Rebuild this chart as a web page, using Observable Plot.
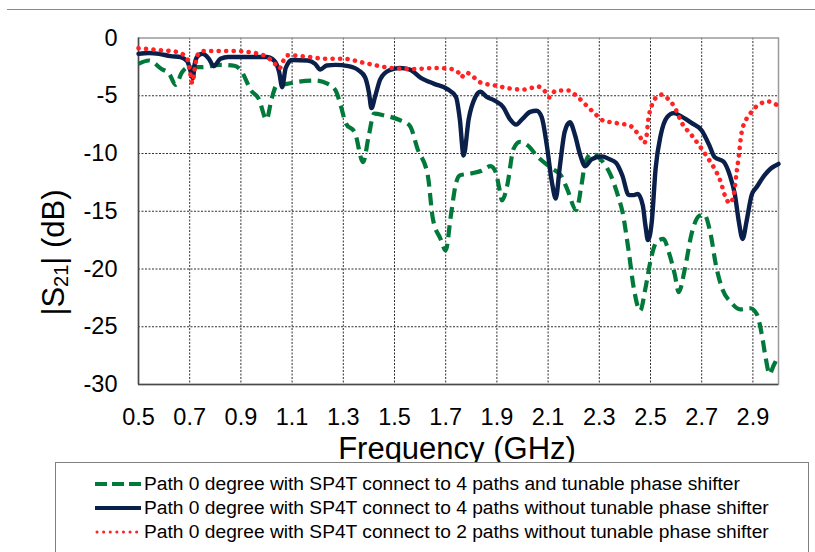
<!DOCTYPE html>
<html>
<head>
<meta charset="utf-8">
<script src="https://cdn.jsdelivr.net/npm/d3@7"></script>
<script src="https://cdn.jsdelivr.net/npm/@observablehq/plot@0.6"></script>
<style>
  html, body { margin: 0; padding: 0; background: #fff; }
  #wrap { position: relative; width: 815px; height: 552px; overflow: hidden; background: #fff; font-family: "Liberation Sans", Arial, sans-serif; color: #000; }
  #topline { position: absolute; left: 7px; top: 9px; width: 808px; border-top: 1.5px solid #8a8a8a; }
  #chart { position: absolute; left: 0; top: 0; }
  #xtitle { position: absolute; left: 0; width: 914px; top: 433px; text-align: center; font-size: 31px; line-height: 31px; white-space: nowrap; }
  #ytitle { position: absolute; width: 300px; left: -97px; top: 237px; text-align: center; font-size: 31px; line-height: 31px; white-space: nowrap; transform: rotate(-90deg); transform-origin: 150px 15.5px; }
  #ytitle sub { font-size: 20px; vertical-align: -4px; line-height: 0; }
  #legend { position: absolute; left: 55px; top: 462px; width: 752px; height: 120px; border: 1px solid #7f7f7f; background: #fff; }
  .row { position: absolute; left: 39px; height: 22px; display: flex; align-items: center; font-size: 19.2px; white-space: nowrap; }
  .row svg { margin-right: 3px; }
</style>
</head>
<body>
<div id="wrap">
  <div id="topline"></div>
  <div id="chart"></div>
  <div id="xtitle">Frequency (GHz)</div>
  <div id="ytitle">|S<sub>21</sub>| (dB)</div>
  <div id="legend"></div>
</div>
<script>
// ---- data ----
const seriesNames = [
  "Path 0 degree with SP4T connect to 4 paths and tunable phase shifter",
  "Path 0 degree with SP4T connect to 4 paths without tunable phase shifter",
  "Path 0 degree with SP4T connect to 2 paths without tunable phase shifter"
];

const freqA = [0.5,0.54,0.59,0.62,0.645,0.67,0.695,0.745,0.82,0.875,0.9,0.94,0.97,1.0,1.02,1.04,1.08,1.12,1.19,1.24,1.27,1.29,1.31,1.345,1.377,1.4,1.42,1.46,1.52,1.56,1.59,1.63,1.65,1.68,1.70,1.72,1.74,1.755,1.775,1.805,1.84,1.875,1.895,1.91,1.92,1.94,1.965,1.99,2.02,2.06,2.115,2.15,2.175,2.21,2.23,2.245,2.27,2.305,2.345,2.375,2.39,2.415,2.435,2.46,2.48,2.5,2.525,2.55,2.575,2.595,2.61,2.635,2.66,2.69,2.71,2.735,2.755,2.78,2.815,2.85,2.89,2.915,2.935,2.95,2.965,2.98,3.0];
const dbA = [-2.24,-1.95,-2.68,-3.1,-4.05,-2.97,-2.53,-2.53,-2.33,-2.4,-2.8,-4.55,-5.27,-7.06,-5.27,-4.1,-3.97,-3.8,-3.68,-3.97,-4.55,-5.84,-7.4,-8.18,-10.75,-8.4,-6.55,-6.7,-7.1,-7.6,-9.6,-11.9,-15.66,-17.4,-18.4,-15.4,-12.6,-11.9,-11.8,-11.7,-11.5,-11.1,-11.6,-13.1,-14.07,-12.8,-9.6,-9.0,-9.3,-10.3,-11.3,-11.9,-13.1,-14.9,-12.8,-10.8,-10.0,-10.5,-11.9,-13.8,-15.0,-18.5,-21.7,-23.6,-21.7,-19.3,-17.6,-17.4,-18.8,-20.5,-22.0,-19.9,-17.0,-15.4,-15.3,-17.0,-19.6,-21.7,-22.9,-23.5,-23.4,-23.9,-25.7,-27.7,-29.1,-28.4,-27.5];

const freqB = [0.5,0.54,0.58,0.625,0.664,0.69,0.705,0.712,0.72,0.73,0.75,0.775,0.794,0.82,0.85,1.0,1.03,1.05,1.061,1.075,1.1,1.16,1.19,1.21,1.235,1.27,1.32,1.36,1.385,1.40,1.41,1.425,1.445,1.48,1.52,1.56,1.6,1.655,1.705,1.74,1.755,1.77,1.79,1.815,1.835,1.86,1.89,1.925,1.95,1.975,2.0,2.03,2.055,2.075,2.095,2.115,2.13,2.145,2.165,2.185,2.205,2.225,2.245,2.27,2.31,2.34,2.365,2.39,2.415,2.435,2.45,2.47,2.48,2.49,2.505,2.52,2.54,2.565,2.59,2.625,2.66,2.7,2.73,2.75,2.785,2.81,2.83,2.845,2.86,2.875,2.895,2.915,2.945,2.97,3.0];
const dbB = [-1.37,-1.3,-1.37,-1.57,-1.66,-2.0,-3.0,-3.5,-2.2,-1.6,-1.37,-1.8,-2.44,-1.8,-1.65,-1.65,-1.95,-3.0,-4.26,-2.6,-1.9,-1.95,-2.24,-2.73,-2.38,-2.33,-2.44,-2.8,-3.4,-4.7,-6.07,-5.0,-3.55,-2.8,-2.6,-2.73,-3.4,-3.97,-4.4,-5.1,-7.0,-10.17,-7.0,-5.15,-4.66,-5.1,-5.4,-6.0,-7.0,-7.5,-7.0,-6.4,-6.3,-6.85,-9.3,-12.5,-13.9,-11.3,-8.1,-7.3,-8.4,-10.1,-11.1,-10.5,-10.25,-10.5,-10.8,-11.9,-13.6,-13.6,-13.5,-14.5,-16.2,-17.5,-15.9,-11.3,-8.4,-6.85,-6.5,-6.85,-7.35,-8.0,-9.3,-10.3,-10.7,-11.9,-13.6,-15.9,-17.4,-15.9,-13.6,-12.9,-11.9,-11.3,-10.9];

const freqC = [0.5,0.59,0.65,0.69,0.70,0.71,0.72,0.73,0.75,0.875,0.96,1.01,1.04,1.05,1.065,1.08,1.17,1.23,1.305,1.37,1.43,1.49,1.58,1.66,1.72,1.75,1.76,1.78,1.81,1.835,1.89,1.945,2.0,2.03,2.06,2.085,2.105,2.13,2.18,2.21,2.25,2.29,2.315,2.363,2.42,2.46,2.475,2.485,2.49,2.505,2.52,2.545,2.565,2.59,2.625,2.66,2.7,2.73,2.755,2.775,2.79,2.81,2.825,2.835,2.845,2.855,2.875,2.895,2.915,2.96,3.0];
const dbC = [-0.88,-1.07,-1.2,-1.77,-2.8,-3.9,-2.6,-1.5,-1.13,-1.13,-1.32,-1.77,-2.4,-2.65,-2.0,-1.5,-1.65,-1.8,-1.8,-2.1,-2.38,-2.6,-2.68,-2.6,-2.68,-3.0,-3.4,-3.0,-3.4,-3.85,-4.1,-4.35,-4.47,-4.35,-4.2,-4.55,-5.15,-4.55,-4.55,-5.0,-5.85,-6.7,-7.15,-7.35,-7.6,-8.6,-9.1,-8.4,-7.3,-5.84,-5.2,-4.9,-5.2,-5.84,-7.45,-8.4,-9.6,-10.6,-11.5,-12.5,-13.6,-14.3,-13.6,-11.9,-10.2,-8.3,-7.0,-6.4,-5.9,-5.5,-5.9];

const xTicks = [0.5,0.7,0.9,1.1,1.3,1.5,1.7,1.9,2.1,2.3,2.5,2.7,2.9];
const xGrid = [0.7,0.9,1.1,1.3,1.5,1.7,1.9,2.1,2.3,2.5,2.7,2.9];
const yTicks = [0,-5,-10,-15,-20,-25,-30];
const yGrid = [-5,-10,-15,-20,-25];

// ---- styles ----
const styles = [
  {stroke: "#00793a", strokeWidth: 4.2, strokeDasharray: "12,6.5", strokeLinecap: "butt"},
  {stroke: "#0b1f4b", strokeWidth: 4.4},
  {stroke: "#ff2323", strokeWidth: 4.6, strokeDasharray: "0.1,7.4", strokeLinecap: "round"}
];

const mk = (f, d) => f.map((x, i) => ({f: x, db: d[i]}));
const dataA = mk(freqA, dbA), dataB = mk(freqB, dbB), dataC = mk(freqC, dbC);

const chart = Plot.plot({
  width: 815,
  height: 462,
  marginLeft: 138,
  marginRight: 37,
  marginTop: 37.5,
  marginBottom: 78,
  style: {fontFamily: "'Liberation Sans', Arial, sans-serif", color: "#000", background: "transparent", overflow: "visible"},
  x: {domain: [0.5, 3.0]},
  y: {domain: [-30, 0]},
  marks: [
    Plot.gridX(xGrid, {stroke: "#1a1a1a", strokeOpacity: 0.9, strokeWidth: 1, strokeDasharray: "2,1.5"}),
    Plot.gridY(yGrid, {stroke: "#1a1a1a", strokeOpacity: 0.9, strokeWidth: 1, strokeDasharray: "2,1.5"}),
    Plot.frame({stroke: "#9a9a9a", strokeWidth: 1.5}),
    Plot.ruleX([0.5], {stroke: "#4a4a4a", strokeWidth: 1.5}),
    Plot.ruleY([-30], {stroke: "#4a4a4a", strokeWidth: 1.5}),
    Plot.axisX(xTicks, {tickSize: 0, tickPadding: 24, fontSize: 23.5, label: null, tickFormat: d => d.toFixed(1)}),
    Plot.axisY(yTicks, {tickSize: 0, tickPadding: 21, fontSize: 23.5, label: null, tickFormat: d => String(d)}),
    Plot.line(dataA, {x: "f", y: "db", curve: "monotone-x", ...styles[0]}),
    Plot.line(dataB, {x: "f", y: "db", curve: "monotone-x", ...styles[1]}),
    Plot.line(dataC, {x: "f", y: "db", curve: "monotone-x", ...styles[2]})
  ]
});
document.getElementById("chart").appendChild(chart);

// ---- legend ----
const legend = document.getElementById("legend");
const rowTops = [10, 34, 58];
seriesNames.forEach((name, i) => {
  const row = document.createElement("div");
  row.className = "row";
  row.style.top = rowTops[i] + "px";
  const s = styles[i];
  const svgNS = "http://www.w3.org/2000/svg";
  const svg = document.createElementNS(svgNS, "svg");
  svg.setAttribute("width", 46);
  svg.setAttribute("height", 10);
  const ln = document.createElementNS(svgNS, "line");
  ln.setAttribute("x1", i === 2 ? 2 : 0);
  ln.setAttribute("x2", 46);
  ln.setAttribute("y1", 5);
  ln.setAttribute("y2", 5);
  ln.setAttribute("stroke", s.stroke);
  ln.setAttribute("stroke-width", i === 2 ? 3 : 4);
  if (s.strokeDasharray) ln.setAttribute("stroke-dasharray", i === 0 ? "12,5" : "0.1,6.5");
  if (s.strokeLinecap) ln.setAttribute("stroke-linecap", s.strokeLinecap);
  svg.appendChild(ln);
  row.appendChild(svg);
  const span = document.createElement("span");
  span.textContent = name;
  row.appendChild(span);
  legend.appendChild(row);
});
</script>
</body>
</html>
